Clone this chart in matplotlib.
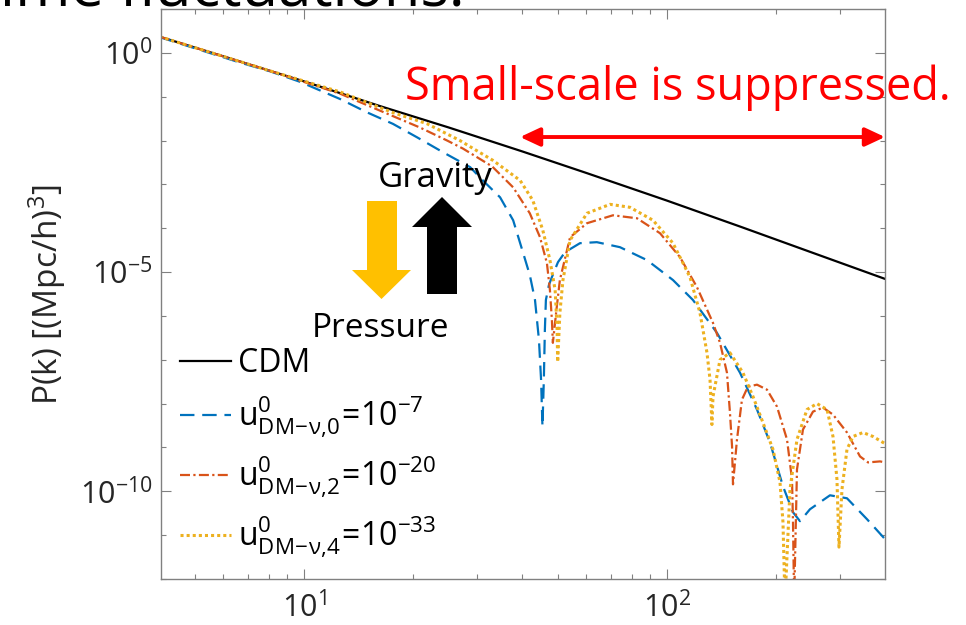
import numpy as np
import matplotlib
matplotlib.use("Agg")
import matplotlib.pyplot as plt
from matplotlib.patches import Polygon
from matplotlib.ticker import FixedLocator, LogLocator, NullFormatter

plt.rcParams['font.family'] = ['Open Sans', 'DejaVu Sans']
plt.rcParams['mathtext.fontset'] = 'custom'
plt.rcParams['mathtext.rm'] = 'Open Sans'
plt.rcParams['mathtext.it'] = 'Open Sans:italic'
plt.rcParams['mathtext.bf'] = 'Open Sans:bold'

# Espectro de potência linear: k [h/Mpc] e log10 P(k) [(Mpc/h)^3]
k_cdm = [4.0, 6.0, 10, 16, 25, 40, 60, 100, 160, 250, 400]
logp_cdm = [0.37, -0.08, -0.65, -1.20, -1.70, -2.25, -2.74, -3.37, -3.97, -4.55, -5.16]

# interação DM-neutrino, n = 0 (u = 1e-7)
k_n0 = [4.0, 6.66, 8.06, 9.75, 12.57, 14.92, 17.59, 20.48, 24.15, 28.7, 31.1,
        34.7, 37.7, 40.1, 41.9, 43.3, 44.4, 45.0, 45.4, 45.8, 46.1, 46.4, 47.3,
        48.2, 50.1, 52.4, 57.6, 64.1, 74.2, 88.1, 103.9, 117.9, 137.3, 158.9,
        177.0, 192.2, 208.7, 222.4, 232.5, 247.7, 281.2, 313.2, 355.6, 398.6]
logp_n0 = [0.36, -0.22, -0.42, -0.66, -1.052, -1.357, -1.620, -1.925, -2.266,
           -2.607, -2.909, -3.295, -3.818, -4.545, -5.068, -5.636, -6.545,
           -7.455, -8.523, -7.455, -6.318, -5.636, -5.295, -5.114, -4.773,
           -4.545, -4.341, -4.318, -4.432, -4.727, -5.182, -5.636, -6.386,
           -7.295, -8.136, -8.886, -9.886, -10.477, -10.682, -10.409, -10.091,
           -10.159, -10.636, -11.09]

# n = 2 (u = 1e-20)
k_n2 = [4.0, 8.06, 12.57, 16.2, 20.9, 24.8, 27.4, 33.0, 37.7, 41.9, 44.7,
        46.7, 47.6, 48.2, 48.5, 49.5, 50.7, 54.1, 60.2, 71.0, 82.7, 95.7,
        108.6, 120.9, 133.9, 140.0, 146.3, 149.1, 151.1, 152.0, 155.9, 160.9,
        167.1, 177.0, 188.6, 200.9, 214.1, 221.0, 222.4, 224.0, 228.1, 236.9,
        252.5, 269.0, 286.6, 313.2, 340.2, 357.9, 386.2, 398.6]
logp_n2 = [0.37, -0.41, -0.93, -1.318, -1.705, -2.0, -2.182, -2.591, -3.068,
           -3.659, -4.205, -4.795, -5.409, -6.091, -6.614, -5.932, -5.182,
           -4.205, -3.886, -3.705, -3.773, -4.114, -4.659, -5.341, -6.159,
           -6.614, -7.295, -8.205, -8.977, -9.841, -8.818, -7.909, -7.614,
           -7.568, -7.682, -8.068, -8.818, -9.727, -10.705, -12.5, -9.5,
           -8.591, -8.182, -8.091, -8.25, -8.659, -9.205, -9.341, -9.318, -9.34]

# n = 4 (u = 1e-33)
k_n4 = [4.0, 8.06, 12.57, 17.59, 21.8, 26.9, 33.2, 39.4, 42.7, 45.5, 47.6,
        49.2, 49.8, 50.0, 50.7, 51.7, 54.1, 60.2, 69.7, 79.1, 91.5, 103.9,
        115.7, 123.3, 128.9, 131.4, 133.0, 133.9, 140.0, 149.1, 161.9, 172.6,
        183.8, 195.9, 204.8, 208.7, 211.4, 218.2, 228.1, 243.0, 258.9, 276.0,
        286.6, 293.9, 297.7, 303.4, 313.2, 325.4, 346.7, 369.4, 393.6, 398.6]
logp_n4 = [0.37, -0.41, -0.89, -1.364, -1.614, -2.0, -2.455, -2.909, -3.364,
           -4.045, -4.727, -5.409, -6.25, -7.05, -5.932, -5.182, -4.273,
           -3.659, -3.455, -3.523, -3.818, -4.341, -5.114, -5.932, -6.841,
           -7.455, -8.477, -7.841, -7.0, -6.841, -7.295, -7.841, -8.432,
           -9.045, -9.795, -10.705, -12.5, -9.955, -8.818, -8.136, -8.0,
           -8.136, -8.75, -9.727, -11.273, -9.955, -9.045, -8.75, -8.659,
           -8.75, -8.886, -8.91]

labels = ['CDM',
          r'$\mathregular{u^{0}_{DM\!-\!\nu{,}0}\!=\!10^{-7}}$',
          r'$\mathregular{u^{0}_{DM\!-\!\nu{,}2}\!=\!10^{-20}}$',
          r'$\mathregular{u^{0}_{DM\!-\!\nu{,}4}\!=\!10^{-33}}$']

W, H = 966, 625


def fx(px):
    return px / W


def fy(py):
    return 1 - py / H


fig = plt.figure(figsize=(W / 100, H / 100), dpi=100)
ax = fig.add_axes([fx(161), fy(579), 724 / W, 570 / H])

ax.plot(k_cdm, 10 ** np.array(logp_cdm), color='black', lw=1.6, label=labels[0])
ax.plot(k_n0, 10 ** np.array(logp_n0), color='#0072BD', lw=1.6,
        linestyle=(0, (6.5, 3.5)), label=labels[1])
ax.plot(k_n2, 10 ** np.array(logp_n2), color='#D95319', lw=1.6,
        linestyle=(0, (4.5, 1.5, 1, 1.5)), label=labels[2])
ax.plot(k_n4, 10 ** np.array(logp_n4), color='#EDB120', lw=2.2,
        linestyle=(0, (1, 1)), label=labels[3])

ax.set_xscale('log')
ax.set_yscale('log')
ax.set_xlim(4.04, 398.6)
ax.set_ylim(1e-12, 1e1)

ax.xaxis.set_major_locator(FixedLocator([10, 100]))
ax.xaxis.set_minor_locator(LogLocator(base=10, subs=np.arange(2, 10), numticks=20))
ax.xaxis.set_minor_formatter(NullFormatter())
ax.yaxis.set_major_locator(FixedLocator([1e-10, 1e-5, 1e0]))
ax.yaxis.set_minor_locator(FixedLocator(10.0 ** np.arange(-12, 2)))
ax.yaxis.set_minor_formatter(NullFormatter())

ax.tick_params(which='both', direction='in', top=True, right=True,
               color='#808080', labelcolor='#262626', labelsize=22, width=0.8)
ax.tick_params(which='major', length=7, pad=6)
ax.tick_params(which='minor', length=3.5)
ax.tick_params(axis='x', pad=9)
for s in ax.spines.values():
    s.set_color('#808080')
    s.set_linewidth(1.0)

fig.text(fx(47), fy(295), 'P(k) [(Mpc/h)$^3$]', rotation=90, fontsize=24,
         color='#262626', ha='center', va='center')

ax.legend(loc='lower left', frameon=False, fontsize=23, handlelength=1.6,
          handletextpad=0.2, labelspacing=0.45, borderaxespad=0.1, borderpad=0.5)

# faixa de pequenas escalas suprimidas
fig.text(fx(405), fy(100), 'Small-scale is suppressed.', fontsize=32.5,
         color='#FF0000', ha='left', va='baseline')
ax.annotate('', xy=(1.0, 0.7754), xytext=(0.4959, 0.7754), xycoords='axes fraction',
            arrowprops=dict(arrowstyle='<|-|>,head_length=0.6,head_width=0.28',
                            color='#FF0000', lw=2.8, mutation_scale=20,
                            shrinkA=0, shrinkB=0),
            annotation_clip=False)

# pressão (para baixo) x gravidade (para cima)
seta_p = [(367, 201), (397, 201), (397, 270), (411, 270), (381.5, 299),
          (352, 270), (367, 270)]
seta_g = [(427, 294), (457, 294), (457, 227), (472, 227), (442, 197),
          (412, 227), (427, 227)]
fig.add_artist(Polygon([(fx(x), fy(y)) for x, y in seta_p], closed=True,
                       facecolor='#FFC000', edgecolor='none',
                       transform=fig.transFigure))
fig.add_artist(Polygon([(fx(x), fy(y)) for x, y in seta_g], closed=True,
                       facecolor='black', edgecolor='none',
                       transform=fig.transFigure))
fig.text(fx(378), fy(187), 'Gravity', fontsize=25, color='black',
         ha='left', va='baseline')
fig.text(fx(312), fy(337), 'Pressure', fontsize=24, color='black',
         ha='left', va='baseline')

fig.text(fx(0), fy(6), 'ime fluctuations.', fontsize=43, color='black',
         ha='left', va='baseline')

fig.savefig('out.png', dpi=100)
